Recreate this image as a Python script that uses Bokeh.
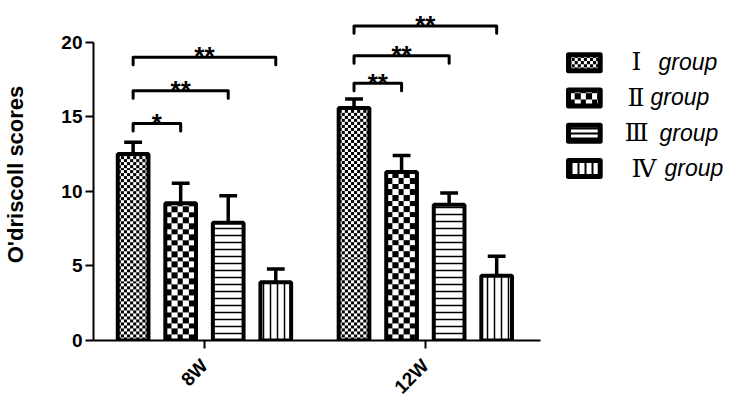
from math import pi
import numpy as np
from bokeh.plotting import figure
from bokeh.models import Range1d, FixedTicker, ColumnDataSource, Label
from bokeh.core.properties import value
from bokeh.embed import file_html
from bokeh.resources import INLINE

# ---------------- data ----------------
times = ["8W", "12W"]
group_numerals = ["Ⅰ", "Ⅱ", "Ⅲ", "Ⅳ"]
group_word = "group"

mean_g1 = [12.5, 15.6]
mean_g2 = [9.2, 11.3]
mean_g3 = [7.9, 9.1]
mean_g4 = [3.9, 4.35]
err_g1 = [0.8, 0.6]
err_g2 = [1.35, 1.1]
err_g3 = [1.8, 0.8]
err_g4 = [0.9, 1.3]

# significance comparisons: time index, group a, group b, bracket level, label
comp_time = [0, 0, 0, 1, 1, 1]
comp_a = [0, 0, 0, 0, 0, 0]
comp_b = [1, 2, 3, 1, 2, 3]
comp_level = [14.55, 16.75, 19.0, 17.25, 19.1, 21.1]
comp_label = ["*", "**", "**", "**", "**", "**"]

y_ticks = [0, 5, 10, 15, 20]

means = [mean_g1, mean_g2, mean_g3, mean_g4]
errs = [err_g1, err_g2, err_g3, err_g4]

# ---------------- layout ----------------
PX = 223.0                     # pixels per x unit
PY = 15.0                      # pixels per y unit
LEFT, TOP = 95, 8              # frame position in the picture
FRAME_W = 639
FRAME_H = 334
BOTTOM = TOP + FRAME_H
BOTTOM_PANEL = 65
x0 = 1 - 112 / PX
x1 = x0 + FRAME_W / PX
y1 = FRAME_H / PY
step = 48 / PX
offsets = [-1.5 * step, -0.5 * step, 0.5 * step, 1.5 * step]
bar_w = 31 / PX
cap_w = 18 / PX
drop = 0.5
FONT = "Liberation Sans"


def to_x(px):
    return x0 + (px - LEFT) / PX


def to_y(py):
    return (BOTTOM - py) / PY


def checker(nx, ny, cell):
    jj, ii = np.meshgrid(np.arange(nx), np.arange(ny))
    black = ((np.floor(jj / cell) + np.floor(ii / cell)) % 2) == 0
    img = np.empty((ny, nx), dtype=np.uint32)
    v = img.view(dtype=np.uint8).reshape((ny, nx, 4))
    v[..., 0] = np.where(black, 0, 255)
    v[..., 1] = v[..., 0]
    v[..., 2] = v[..., 0]
    v[..., 3] = 255
    return img


p = figure(width=(LEFT - 8) + FRAME_W, height=BOTTOM + BOTTOM_PANEL,
           x_range=Range1d(x0, x1), y_range=Range1d(0, y1),
           output_backend="svg", toolbar_location=None,
           min_border_left=LEFT - 8, min_border_right=0, min_border_top=TOP,
           min_border_bottom=BOTTOM_PANEL)
p.outline_line_color = None
p.grid.visible = False

# axes
p.xaxis.ticker = FixedTicker(ticks=[i + 1 for i in range(len(times))])
p.xaxis.major_label_overrides = {i + 1: t for i, t in enumerate(times)}
p.xaxis.bounds = (x0, 2 + 116 / PX)
p.xaxis.major_label_orientation = pi / 4
p.yaxis.ticker = FixedTicker(ticks=y_ticks)
p.yaxis.bounds = (0, 20)
p.yaxis.axis_label = "O'driscoll scores"
p.yaxis.axis_label_text_font = FONT
p.yaxis.axis_label_text_font_style = "bold"
p.yaxis.axis_label_text_font_size = "22px"
p.yaxis.axis_label_text_color = "black"
p.yaxis.axis_label_standoff = 30
for ax in (p.xaxis[0], p.yaxis[0]):
    ax.axis_line_width = 2
    ax.axis_line_color = "black"
    ax.major_tick_line_width = 2
    ax.major_tick_line_color = "black"
    ax.major_tick_out = 8
    ax.major_tick_in = 0
    ax.minor_tick_line_color = None
    ax.major_label_text_font = FONT
    ax.major_label_text_font_style = "bold"
    ax.major_label_text_font_size = "19px"
    ax.major_label_text_color = "black"
p.yaxis.major_label_standoff = 3
p.xaxis.major_label_standoff = 14

# bar fills: two checkerboards (images) and two line hatches
checker_cells = [3, 5.6]
hatches = [None, None,
           dict(hatch_pattern="-", hatch_scale=7, hatch_weight=1.5),
           dict(hatch_pattern="|", hatch_scale=7, hatch_weight=1.5)]

for g in range(len(group_numerals)):
    xs = [i + 1 + offsets[g] for i in range(len(times))]
    tops = means[g]
    ups = [m + e for m, e in zip(tops, errs[g])]
    src = ColumnDataSource(dict(x=xs, top=tops, up=ups,
                                cl=[x - cap_w / 2 for x in xs], cr=[x + cap_w / 2 for x in xs]))
    p.segment(x0="x", y0="top", x1="x", y1="up", source=src, line_color="black", line_width=3.5)
    p.segment(x0="cl", y0="up", x1="cr", y1="up", source=src, line_color="black", line_width=3.5)
    if hatches[g] is None:
        nx = int(round(bar_w * PX))
        imgs = [checker(nx, int(round(t * PY)), checker_cells[g]) for t in tops]
        p.image_rgba(image=imgs, x=[x - bar_w / 2 for x in xs], y=[0] * len(xs),
                     dw=[bar_w] * len(xs), dh=tops)
        p.vbar(x="x", top="top", bottom=0, width=bar_w, source=src, fill_color=None,
               line_color="black", line_width=4)
    else:
        p.vbar(x="x", top="top", bottom=0, width=bar_w, source=src, fill_color="white",
               line_color="black", line_width=4, hatch_color="black", **hatches[g])

# significance brackets
bxs, bys, sx, sy = [], [], [], []
for t, a, b, lvl in zip(comp_time, comp_a, comp_b, comp_level):
    xa = t + 1 + offsets[a]
    xb = t + 1 + offsets[b]
    bxs.append([xa, xa, xb, xb])
    bys.append([lvl - drop, lvl, lvl, lvl - drop])
    sx.append((xa + xb) / 2)
    sy.append(lvl + 0.05)
p.multi_line(xs=bxs, ys=bys, line_color="black", line_width=3, line_cap="round", line_join="round")
p.text(x=sx, y=sy, text=comp_label, text_font=value(FONT), text_font_size="26px",
       text_font_style="bold", text_align="center", text_baseline="alphabetic",
       text_color="black")

# legend swatches
sw_cx = 590.5
sw_cy = [62.5, 98, 133.5, 169]
sw_w, sw_h = 32, 16
leg_hatch = [None, None,
             dict(hatch_pattern="-", hatch_scale=5, hatch_weight=2),
             dict(hatch_pattern="|", hatch_scale=7, hatch_weight=2)]
for g in range(len(group_numerals)):
    cx, cy = to_x(sw_cx), to_y(sw_cy[g])
    w, h = sw_w / PX, sw_h / PY
    if leg_hatch[g] is None:
        p.image_rgba(image=[checker(sw_w, sw_h, checker_cells[g])], x=[cx - w / 2], y=[cy - h / 2],
                     dw=[w], dh=[h])
        p.rect(x=[cx], y=[cy], width=w, height=h, fill_color=None, line_color="black",
               line_width=5, line_join="round")
    else:
        p.rect(x=[cx], y=[cy], width=w, height=h, fill_color="white", line_color="black",
               line_width=5, line_join="round", hatch_color="black", **leg_hatch[g])

# legend texts
num_dx = [538, 534, 531, 538]
word_dx = [565, 557, 566, 571]
row_y = [279, 243.5, 208, 172.5]
for g in range(len(group_numerals)):
    p.add_layout(Label(x=num_dx[g], y=row_y[g], x_units="screen", y_units="screen",
                       text=group_numerals[g], text_font="DejaVu Serif", text_font_size="25px",
                       text_baseline="middle", text_align="left", text_color="black"))
    p.add_layout(Label(x=word_dx[g], y=row_y[g], x_units="screen", y_units="screen",
                       text=group_word, text_font=FONT, text_font_style="italic",
                       text_font_size="23px", text_baseline="middle", text_align="left",
                       text_color="black"))

open("out.html", "w").write(file_html(p, INLINE))
